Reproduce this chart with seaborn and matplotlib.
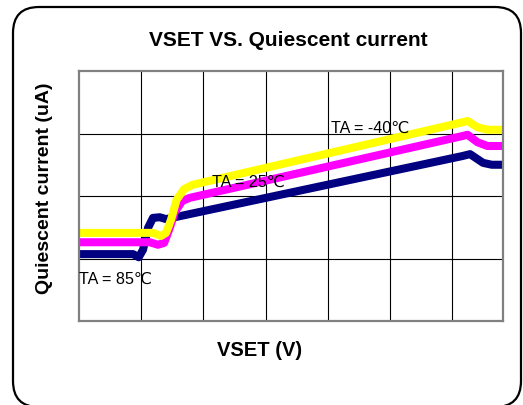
import numpy as np
import pandas as pd
import seaborn as sns
import matplotlib.pyplot as plt
from matplotlib.patches import FancyBboxPatch
from matplotlib.transforms import IdentityTransform

# curve values (x in grid columns, y in grid rows)
x_85 = [0, 0.87, 0.96, 1.03, 1.11, 1.19, 1.30, 1.40, 1.54, 6.17, 6.29, 6.50, 6.64, 6.82]
y_85 = [1.07, 1.07, 1.02, 1.14, 1.49, 1.65, 1.66, 1.63, 1.66, 2.64, 2.67, 2.53, 2.50, 2.50]
x_25 = [0, 1.14, 1.27, 1.37, 1.46, 1.54, 1.66, 1.78, 6.17, 6.25, 6.41, 6.57, 6.82]
y_25 = [1.26, 1.26, 1.22, 1.25, 1.49, 1.74, 1.92, 1.97, 2.96, 2.98, 2.86, 2.80, 2.80]
x_m40 = [0, 1.19, 1.32, 1.40, 1.48, 1.57, 1.69, 1.83, 6.17, 6.25, 6.41, 6.57, 6.82]
y_m40 = [1.41, 1.41, 1.36, 1.41, 1.62, 1.94, 2.11, 2.18, 3.18, 3.20, 3.10, 3.06, 3.06]

series = ["TA = 85℃", "TA = 25℃", "TA = -40℃"]
colors = ["#000080", "#ff00ff", "#ffff00"]

df = pd.concat([
    pd.DataFrame({"vset": x_85, "iq": y_85, "temp": series[0]}),
    pd.DataFrame({"vset": x_25, "iq": y_25, "temp": series[1]}),
    pd.DataFrame({"vset": x_m40, "iq": y_m40, "temp": series[2]}),
], ignore_index=True)

sns.set_theme(style="white")
plt.rcParams["font.family"] = ["Liberation Sans", "DejaVu Sans"]
plt.rcParams["text.color"] = "black"

fig = plt.figure(figsize=(5.23, 4.05), dpi=100)
ax = fig.add_axes([79 / 523, 84 / 405, 424 / 523, 250 / 405])

for name, c in zip(series, colors):
    sns.lineplot(data=df[df["temp"] == name], x="vset", y="iq", color=c, sort=False,
                 estimator=None, linewidth=5.8, ax=ax, legend=False,
                 solid_joinstyle="round", solid_capstyle="butt")

ax.set_xlim(0, 6.82)
ax.set_ylim(0, 4)
ax.set_xticks(range(1, 7))
ax.set_yticks(range(1, 4))
ax.tick_params(length=0, labelbottom=False, labelleft=False)
ax.grid(True, color="black", linewidth=0.8)
ax.set_axisbelow(True)
for s in ax.spines.values():
    s.set_color("#808080")
    s.set_linewidth(1.6)
ax.set_xlabel("")
ax.set_ylabel("")

ax.text(0, 0.67, "TA = 85℃", fontsize=11.6, va="center", ha="left")
ax.text(2.14, 2.22, "TA = 25℃", fontsize=11.6, va="center", ha="left")
ax.text(4.05, 3.09, "TA = -40℃", fontsize=11.6, va="center", ha="left")

fig.text(288 / 523, 1 - 40 / 405, "VSET VS. Quiescent current", fontsize=15,
         fontweight="bold", ha="center", va="center")
fig.text(260 / 523, 1 - 350 / 405, "VSET (V)", fontsize=14.5,
         fontweight="bold", ha="center", va="center")
fig.text(45 / 523, 1 - 188 / 405, "Quiescent current (uA)", fontsize=14,
         fontweight="bold", ha="center", va="center", rotation=90)

border = FancyBboxPatch((13, -2), 508, 400, boxstyle="round,pad=0,rounding_size=26",
                        transform=IdentityTransform(), fill=False,
                        edgecolor="black", linewidth=1.6)
fig.patches.append(border)

fig.savefig("out.png", dpi=100)
